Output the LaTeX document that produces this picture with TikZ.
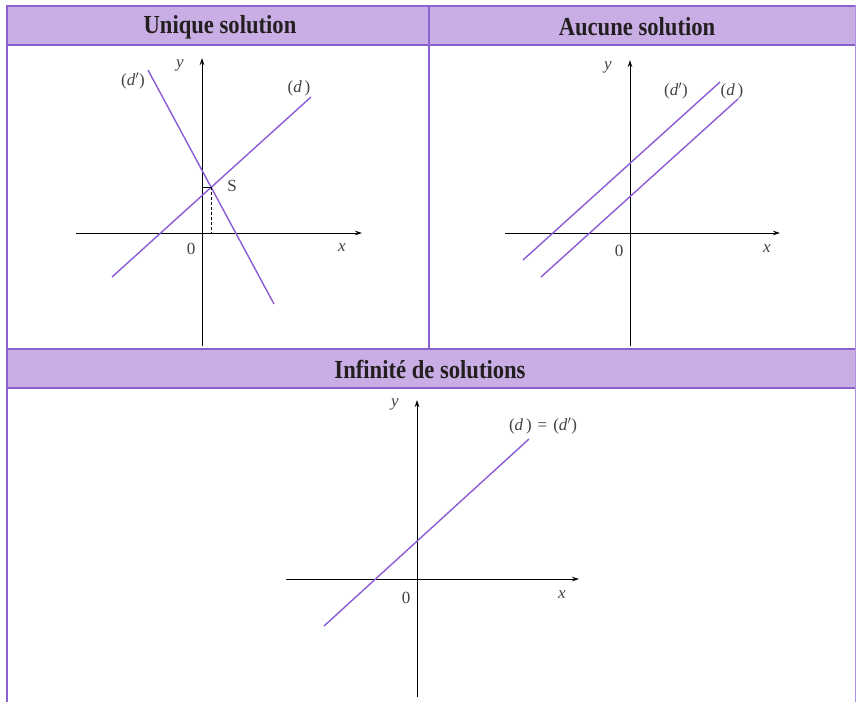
\documentclass[tikz,border=0pt]{standalone}
\usepackage{fontspec}
\setmainfont{Liberation Serif}
\newfontfamily\hdrfont{Liberation Serif}[FakeStretch=0.87]
\usetikzlibrary{arrows.meta}
\definecolor{hdrfill}{HTML}{C8AEE4}
\definecolor{hdrline}{HTML}{8A62D0}
\definecolor{curve}{HTML}{8A5CD6}
\definecolor{txt}{HTML}{231F20}
\tikzset{
  frame/.style={draw=hdrline, line width=2.8pt},
  axis/.style={draw=black, line width=0.9pt, -{Stealth[length=7pt,width=4.5pt]}},
  axisline/.style={draw=black, line width=0.9pt},
  droite/.style={draw=curve, line width=1.4pt},
  hdr/.style={text=txt, font=\hdrfont\bfseries\fontsize{26}{30}\selectfont, inner sep=0pt},
  lbl/.style={text=txt!85, font=\fontsize{17}{20}\selectfont, inner sep=0pt},
}
\begin{document}
\begin{tikzpicture}[x=1pt,y=-1pt]
\useasboundingbox (0,0) rectangle (856,702);
\fill[white] (0,0) rectangle (856,702);
% header fills
\fill[hdrfill] (7,6) rectangle (855,45);
\fill[hdrfill] (7,349) rectangle (855,388);
% frame lines
\draw[frame] (6,6) -- (856,6);
\draw[frame] (6,45) -- (856,45);
\draw[frame] (6,349) -- (856,349);
\draw[frame] (6,388) -- (856,388);
\draw[frame] (7,5) -- (7,702);
\draw[frame] (429,5) -- (429,349);
\draw[draw=hdrline!70, line width=1.5pt] (855.5,5) -- (855.5,702);
% headers
\node[hdr] (h1) at (220,27) {Unique solution};
\node[hdr] (h2) at (637,27) {Aucune solution};
\node[hdr] (h3) at (430,369) {Infinité de solutions};

% ---------- Panel 1 ----------
\coordinate (x1a) at (76,233);
\coordinate (x1b) at (362,233);
\coordinate (y1a) at (202,346);
\coordinate (y1b) at (202,58);
\draw[axis] (x1a) -- (x1b);
\draw[axis] (y1a) -- (y1b);
\coordinate (d1a) at (112,277);
\coordinate (d1b) at (311,97);
\coordinate (e1a) at (148,70);
\coordinate (e1b) at (274,304);
\draw[droite] (d1a) -- (d1b);
\draw[droite] (e1a) -- (e1b);
\coordinate (S) at (211,187);
\coordinate (Sy) at (202,187);
\coordinate (Sx) at (211,233);
\draw[axisline, line width=0.6pt] (Sy) -- (S);
\draw[axisline, line width=0.6pt, dashed, dash pattern=on 3pt off 2pt] (S) -- (Sx);
\node[lbl] (Slbl) at (232,186) {S};
\node[lbl] (y1) at (180,65) {\textit{y}};
\node[lbl] (x1) at (342,248) {\textit{x}};
\node[lbl] (z1) at (191,249) {0};
\node[lbl] (dp1) at (133,81) {(\textit{d}$'$)};
\node[lbl] (dd1) at (299,88) {(\textit{d}\,)};

% ---------- Panel 2 ----------
\coordinate (x2a) at (505,233);
\coordinate (x2b) at (780,233);
\coordinate (y2a) at (630,346);
\coordinate (y2b) at (630,60);
\draw[axis] (x2a) -- (x2b);
\draw[axis] (y2a) -- (y2b);
\coordinate (e2a) at (523,260);
\coordinate (e2b) at (720,82);
\coordinate (d2a) at (541,277);
\coordinate (d2b) at (738,99);
\draw[droite] (e2a) -- (e2b);
\draw[droite] (d2a) -- (d2b);
\node[lbl] (y2) at (608,67) {\textit{y}};
\node[lbl] (x2) at (767,249) {\textit{x}};
\node[lbl] (z2) at (619,251) {0};
\node[lbl] (dp2) at (676,91) {(\textit{d}$'$)};
\node[lbl] (dd2) at (732,91) {(\textit{d}\,)};

% ---------- Panel 3 ----------
\coordinate (x3a) at (286,579);
\coordinate (x3b) at (579,579);
\coordinate (y3a) at (417,697);
\coordinate (y3b) at (417,400);
\draw[axis] (x3a) -- (x3b);
\draw[axis] (y3a) -- (y3b);
\coordinate (d3a) at (324,626);
\coordinate (d3b) at (529,439);
\draw[droite] (d3a) -- (d3b);
\node[lbl] (y3) at (395,404) {\textit{y}};
\node[lbl] (x3) at (562,595) {\textit{x}};
\node[lbl] (z3) at (406,598) {0};
\node[lbl] (dd3) at (543,426) {(\textit{d}\,)\hspace{6pt}=\hspace{6pt}(\textit{d}$'$)};
\end{tikzpicture}
\end{document}
